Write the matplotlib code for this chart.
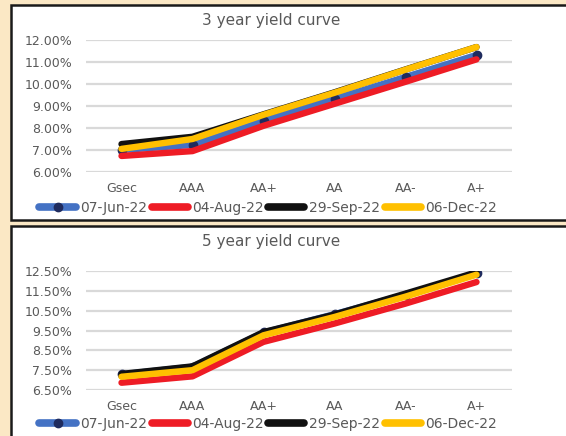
import matplotlib.pyplot as plt
from matplotlib.patches import Rectangle
from matplotlib.lines import Line2D

ratings = ['Gsec', 'AAA', 'AA+', 'AA', 'AA-', 'A+']
dates = ['07-Jun-22', '04-Aug-22', '29-Sep-22', '06-Dec-22']

# 3 year yields (%)
y3_jun = [7.00, 7.23, 8.32, 9.32, 10.32, 11.32]
y3_aug = [6.73, 6.95, 8.10, 9.10, 10.10, 11.12]
y3_sep = [7.27, 7.60, 8.62, 9.62, 10.66, 11.68]
y3_dec = [7.05, 7.50, 8.60, 9.60, 10.65, 11.68]

# 5 year yields (%)
y5_jun = [7.30, 7.68, 9.40, 10.32, 11.30, 12.38]
y5_aug = [6.88, 7.20, 8.93, 9.85, 10.85, 11.93]
y5_sep = [7.32, 7.70, 9.42, 10.30, 11.35, 12.42]
y5_dec = [7.18, 7.51, 9.26, 10.18, 11.20, 12.30]

colors = ['#4472C4', '#EE1C25', '#111111', '#FFC000']
navy = '#1F2B5E'
grey = '#595959'
bg = '#FBE8C5'

W, H = 566, 436
fig = plt.figure(figsize=(W / 100, H / 100), dpi=100, facecolor=bg)


def fx(px):
    return px / W


def fy(py):
    return 1 - py / H


def draw_panel(top, bottom, ax_top, ax_bottom, lo, hi, series, title, title_y, leg_y):
    fig.patches.append(Rectangle((fx(11), fy(bottom)), fx(W + 20), fy(top) - fy(bottom),
                                 transform=fig.transFigure, facecolor='white',
                                 edgecolor='#1a1a1a', linewidth=1.8, zorder=-10))
    ax = fig.add_axes([fx(86), fy(ax_bottom), fx(426), fy(ax_top) - fy(ax_bottom)])
    ax.set_facecolor('none')
    x = list(range(len(ratings)))
    for i, (vals, c) in enumerate(zip(series, colors)):
        kw = dict(marker='o', markersize=6, markerfacecolor=navy, markeredgecolor=navy) if i == 0 else {}
        ax.plot(x, vals, color=c, lw=4.6, solid_capstyle='round', solid_joinstyle='round',
                zorder=3 + i, **kw)
    ax.set_xlim(-0.5, len(ratings) - 0.5)
    ax.set_ylim(lo, hi)
    ticks = [lo + k for k in range(int(hi - lo) + 1)]
    ax.set_yticks(ticks)
    ax.set_yticklabels([f'{t:.2f}%' for t in ticks])
    ax.set_xticks(x)
    ax.set_xticklabels(ratings)
    ax.grid(axis='y', color='#D9D9D9', lw=1.6, zorder=0)
    ax.set_axisbelow(True)
    ax.tick_params(length=0, labelsize=9, labelcolor=grey)
    ax.tick_params(axis='y', pad=10)
    ax.tick_params(axis='x', pad=7)
    for s in ax.spines.values():
        s.set_visible(False)
    fig.text(fx(271), fy(title_y), title, ha='center', va='center', fontsize=11, color=grey)
    handles = []
    for i, c in enumerate(colors):
        kw = dict(marker='o', markersize=6, markerfacecolor=navy, markeredgecolor=navy) if i == 0 else {}
        handles.append(Line2D([], [], color=c, lw=5.5, solid_capstyle='round', markevery=[1],
                              **kw))
    fig.legend(handles, dates, loc='center', bbox_to_anchor=(fx(268), fy(leg_y)), ncol=4,
               frameon=False, fontsize=10, handlelength=2.6, handletextpad=0.3,
               columnspacing=0.35, labelcolor=grey)


draw_panel(5, 220, 40, 172, 6, 12, [y3_jun, y3_aug, y3_sep, y3_dec],
           '3 year yield curve', 20, 208)
draw_panel(226, H + 20, 270.7, 390.3, 6.5, 12.5, [y5_jun, y5_aug, y5_sep, y5_dec],
           '5 year yield curve', 241, 424)

fig.savefig('out.png', dpi=100, facecolor=bg)
